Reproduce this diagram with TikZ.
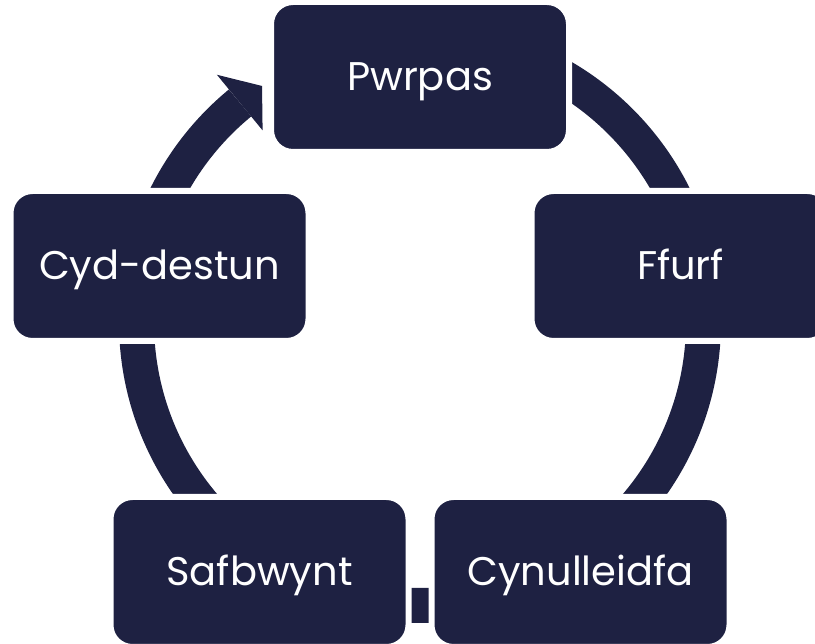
\documentclass[tikz,border=0pt]{standalone}
\usepackage{fontspec}
\setmainfont{Poppins}
\usetikzlibrary{positioning}
\definecolor{navy}{HTML}{1E2142}

\begin{document}
\begin{tikzpicture}[x=1pt,y=1pt,box/.style={draw=white, fill=navy, line width=6pt, rounded corners=22pt, minimum width=298pt, minimum height=150pt, text height=28pt, text depth=0pt, text=white, font=\fontsize{40}{48}\selectfont}]
		\useasboundingbox (0,0) rectangle (815,644);
		\coordinate (c) at (420,322);
		
		% ring with arrow into Pwrpas
		\draw[navy, line width=35pt] (c) ++(90:283.5) arc[start angle=90, end angle=-230.6, radius=283.5];
		\fill[navy] ([shift={(129.4:248)}]c) -- ([shift={(129.4:320)}]c) -- ([shift={(123.8:284)}]c) -- cycle;
		
		\node[box] (pwrpas) at (420,567) {Pwrpas};
		\node[box] (ffurf) at (680.5,378) {Ffurf};
		\node[box] (cynull) at (580.5,72) {Cynulleidfa};
		\node[box] (safbwynt) at (259.5,72) {Safbwynt};
		\node[box] (cyd) at (159.5,378) {Cyd-destun};
		
\end{tikzpicture}
\end{document}
